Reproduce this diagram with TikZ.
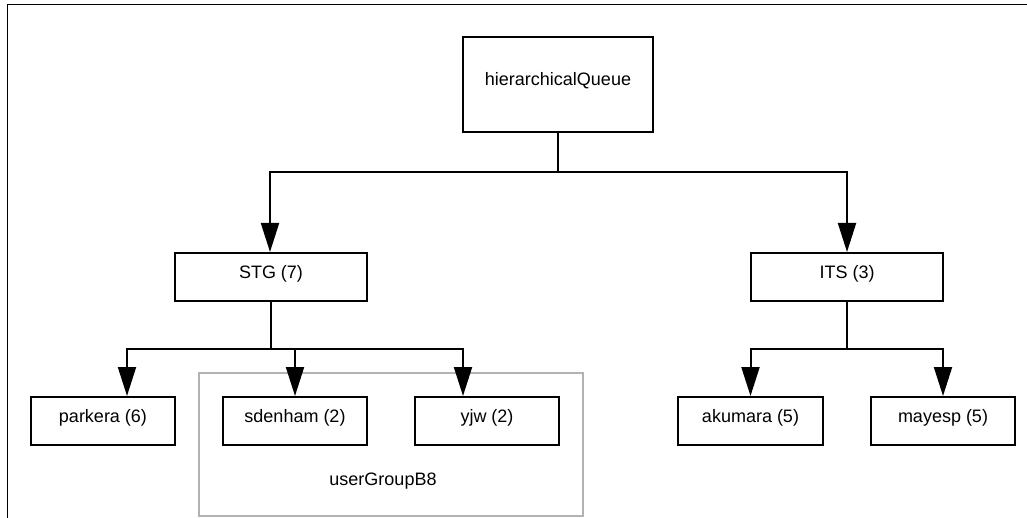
\documentclass[tikz,border=0pt]{standalone}
\usepackage{fontspec}
\setmainfont{Liberation Sans}
\usetikzlibrary{arrows.meta}
\definecolor{groupgray}{RGB}{178,178,178}
\begin{document}
\begin{tikzpicture}[x=1pt,y=-1pt,
  box/.style={draw=black, line width=2pt, inner sep=0pt,
    font=\fontsize{18}{22}\selectfont, text height=13pt, text depth=10pt},
  leafbox/.style={box, minimum width=144pt, minimum height=48pt},
  midbox/.style={box, minimum width=192pt, minimum height=48pt},
  link/.style={draw=black, line width=2pt},
  arr/.style={link, -{Triangle[length=29pt, width=18pt]}},
  frameline/.style={draw=black, line width=1.5pt},
  grouping/.style={draw=groupgray, line width=1.5pt}]
  \useasboundingbox (0,0) rectangle (1027,518);

  % page frame (top and left edges)
  \draw[frameline] (1027,4.5) -- (7.5,4.5) -- (7.5,518);

  % user group enclosure
  \draw[grouping] (199,373) rectangle (583,516);
  \node[font=\fontsize{18}{22}\selectfont] (grp) at (383,481) {userGroupB8};

  % queue tree
  \node[box, minimum width=190pt, minimum height=95pt] (hq) at (558,84.5) {hierarchicalQueue};
  \node[midbox] (stg) at (271,277) {STG (7)};
  \node[midbox] (its) at (847,277) {ITS (3)};
  \node[leafbox] (parkera) at (103,421) {parkera (6)};
  \node[leafbox] (sdenham) at (295,421) {sdenham (2)};
  \node[leafbox] (yjw) at (487,421) {yjw (2)};
  \node[leafbox, minimum width=145pt] (akumara) at (750.5,421) {akumara (5)};
  \node[leafbox] (mayesp) at (943,421) {mayesp (5)};

  % bus junctions
  \coordinate (hqbus) at (558,172);
  \coordinate (stgbus) at (271,349);
  \coordinate (itsbus) at (847,349);

  \draw[link] (hq.south) -- (hqbus);
  \draw[arr] (hqbus) -| ([xshift=-1pt]stg.north);
  \draw[arr] (hqbus) -| (its.north);

  \draw[link] (stg.south) -- (stgbus);
  \draw[arr] (stgbus) -| ([xshift=24pt]parkera.north);
  \draw[arr] (stgbus) -| (sdenham.north);
  \draw[arr] (stgbus) -| ([xshift=-24pt]yjw.north);

  \draw[link] (its.south) -- (itsbus);
  \draw[arr] (itsbus) -| (akumara.north);
  \draw[arr] (itsbus) -| (mayesp.north);
\end{tikzpicture}
\end{document}
